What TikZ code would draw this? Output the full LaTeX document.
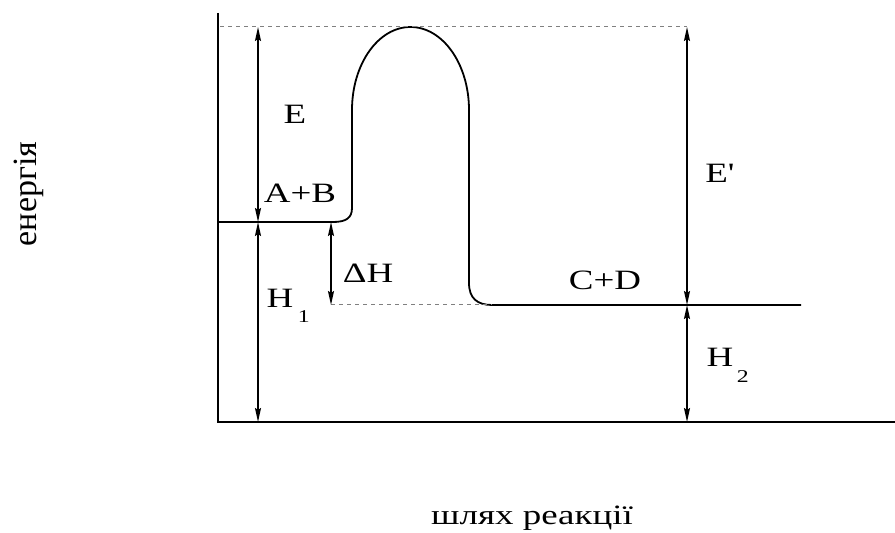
\documentclass[tikz,border=0pt]{standalone}
\usepackage{fontspec}
\setmainfont{Liberation Serif}[Ligatures=TeXOff]
\usetikzlibrary{arrows.meta}

\begin{document}
\begin{tikzpicture}[
    x=1pt, y=1pt,
    axis/.style={line width=2.6pt},
    curve/.style={line width=1.8pt},
    dim/.style={{Stealth[length=14pt,width=6pt,inset=2pt]}-{Stealth[length=14pt,width=6pt,inset=2pt]}, line width=1.6pt},
    guide/.style={gray, line width=1pt, dash pattern=on 4pt off 4pt},
    lbl/.style={inner sep=0pt, anchor=base, xscale=1.32, font=\fontsize{28}{30}\selectfont},
    lowdigit/.style={inner sep=0pt, anchor=base west, xscale=1.32, font=\fontsize{18}{20}\selectfont}
]
\useasboundingbox (0,0) rectangle (895,533);

% axes
\coordinate (orig) at (218,111);
\coordinate (ytop) at (218,520);
\coordinate (xend) at (895,111);
\draw[axis] (ytop) -- (orig) -- (xend);

% levels
\coordinate (abstart) at (218,311);
\coordinate (abend)   at (333,311);
\coordinate (cdstart) at (492,228);
\coordinate (cdend)   at (801,228);

% energy curve
\draw[curve] (abstart) -- (abend)
    .. controls (346,311) and (352,315) .. (352,325)
    -- (352,423)
    arc[start angle=180, end angle=0, x radius=58.5pt, y radius=83pt]
    -- (469,250)
    .. controls (469,235) and (477,228) .. (cdstart)
    -- (cdend);

% dashed guides
\coordinate (tsleft)  at (220,506);
\coordinate (tsright) at (687,506);
\coordinate (dhleft)  at (331,228);
\draw[guide] (tsleft) -- (tsright);
\draw[guide] (dhleft) -- (cdstart);

% dimension arrows
\coordinate (eTop) at (258,506);
\coordinate (eMid) at (258,311);
\coordinate (eBot) at (258,111);
\coordinate (dhTop) at (331,311);
\coordinate (epTop) at (687,506);
\coordinate (epMid) at (687,228);
\coordinate (epBot) at (687,111);
\draw[dim] (eTop) -- (eMid);
\draw[dim] (eMid) -- (eBot);
\draw[dim] (dhTop) -- (dhleft);
\draw[dim] (epTop) -- (epMid);
\draw[dim] (epMid) -- (epBot);

% labels
\node[lbl] (lblE)   at (295,409) {E};
\node[lbl] (lblAB)  at (300,330) {A+B};
\node[lbl] (lblDH)  at (368,250) {ΔH};
\node[lbl] (lblH1)  at (280,225) {H};
\node[lowdigit] (subH1) at ([xshift=4pt,yshift=-15pt]lblH1.base east) {1};
\node[lbl] (lblEp)  at (720,350) {E'};
\node[lbl] (lblCD)  at (605,243) {C+D};
\node[lbl] (lblH2)  at (720,166) {H};
\node[lowdigit] (subH2) at ([xshift=3pt,yshift=-16pt]lblH2.base east) {2};

% axis titles
\node[inner sep=0pt, rotate=90, font=\fontsize{34}{36}\selectfont] (ytitle) at (29,339) {енергія};
\node[lbl] (xtitle) at (532,8) {шлях реакції};
\end{tikzpicture}
\end{document}
